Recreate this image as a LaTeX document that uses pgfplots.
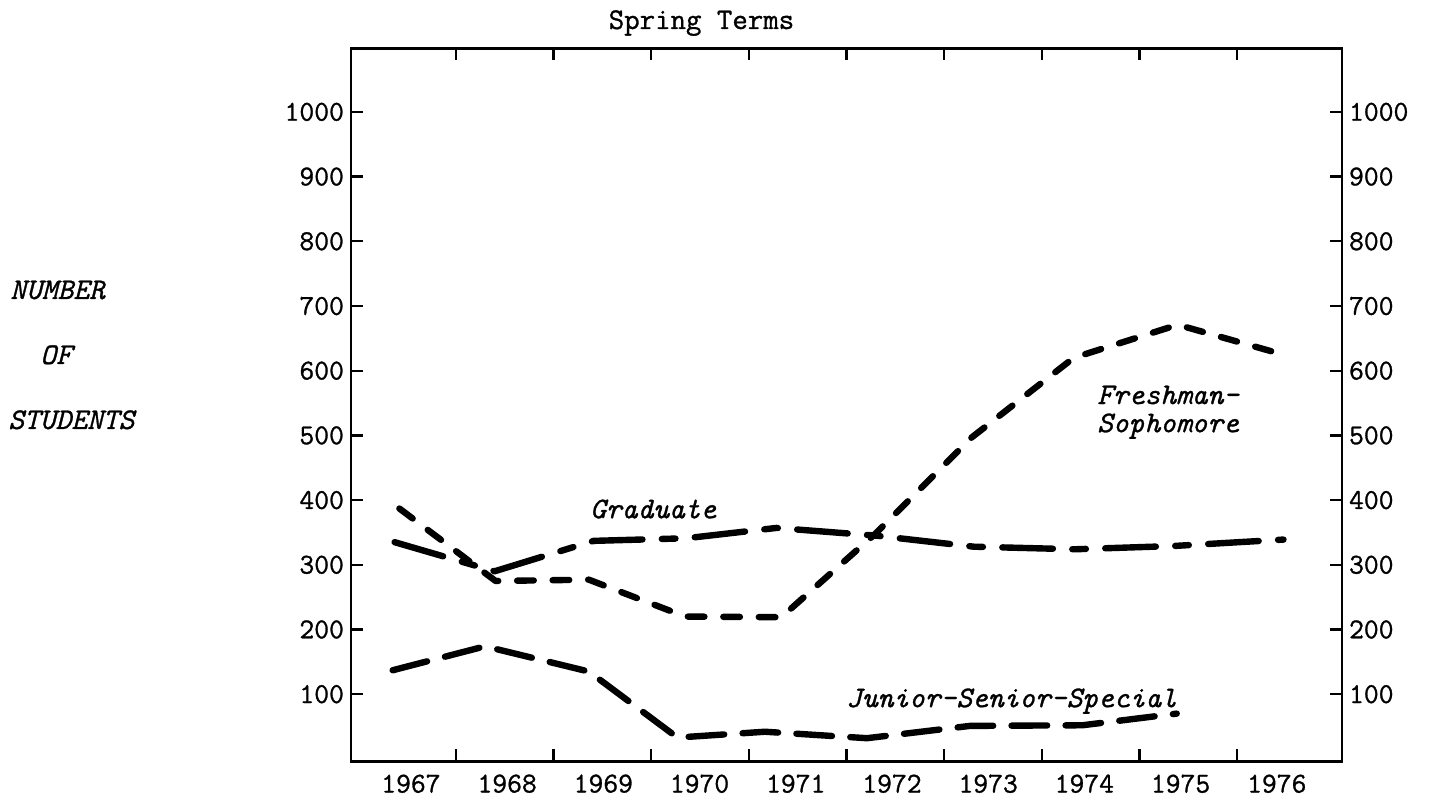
\documentclass[border=0pt]{standalone}
\usepackage{fontspec}
\usepackage{pgfplots}
\pgfplotsset{compat=1.18}
\newfontfamily\tw[FakeBold=1]{Latin Modern Mono}
\newcommand{\tf}{\fontsize{14.4}{17}\selectfont\tw}
\newcommand{\ti}{\fontsize{15}{17}\selectfont\tw\itshape}
\pgfplotsset{
  base/.style={
    scale only axis, width=495.5pt, height=356.5pt,
    xmin=1966.377, xmax=1976.678, ymin=-4, ymax=1098,
    axis line style={line width=1.4pt, black},
    tick style={line width=1.1pt, black},
    major tick length=6pt,
    tick align=inside,
    tick label style={font=\tf},
    /pgf/number format/assume math mode=true,
    /pgf/number format/1000 sep={},
    clip=false,
    ytick={100,200,300,400,500,600,700,800,900,1000},
  }
}
\begin{document}
\begin{tikzpicture}
\begin{axis}[base,
  xtick={1967.467,1968.482,1969.497,1970.512,1971.527,1972.543,1973.558,1974.573,1975.588},
  xticklabels={},
  xtick pos=both,
  extra x ticks={1967,1968,1969,1970,1971,1972,1973,1974,1975,1976},
  extra x tick labels={1967,1968,1969,1970,1971,1972,1973,1974,1975,1976},
  extra x tick style={major tick length=0pt, xticklabel style={yshift=-3pt}},
  ytick pos=both,
  yticklabel pos=left,
]
% Graduate
\addplot[black, line width=3.2pt, line cap=round, line join=round,
  dash pattern=on 25.3pt off 9.7pt on 6.8pt off 9.7pt] coordinates {
  (1966.83,335) (1967.87,290) (1968.90,337) (1969.86,341) (1970.80,357)
  (1971.84,345) (1972.85,328) (1973.90,324) (1974.92,329) (1976.07,339)};
% Freshman-Sophomore
\addplot[black, line width=3.2pt, line cap=round, line join=round,
  dash pattern=on 8.3pt off 9.45pt] coordinates {
  (1966.88,387) (1967.88,275) (1968.85,277) (1969.85,220) (1970.85,219)
  (1971.82,347) (1972.83,497) (1973.89,620) (1974.97,671) (1976.04,626)};
% Junior-Senior-Special
\addplot[black, line width=3.2pt, line cap=round, line join=round,
  dash pattern=on 17.8pt off 9.2pt] coordinates {
  (1966.81,137) (1967.77,174) (1968.85,135) (1969.77,33) (1970.68,42)
  (1971.74,32) (1972.81,51) (1973.98,52) (1974.96,70)};
\node[anchor=base west, inner sep=0pt, font=\ti] at (axis cs:1968.86,372) {Graduate};
\node[anchor=base west, inner sep=0pt, font=\ti] at (axis cs:1974.13,548.5) {Freshman-};
\node[anchor=base west, inner sep=0pt, font=\ti] at (axis cs:1974.13,505) {Sophomore};
\node[anchor=base west, inner sep=0pt, font=\ti] at (axis cs:1971.52,80) {Junior-Senior-Special};
\node[anchor=base, inner sep=0pt, font=\ti\upshape, yshift=9.75pt] at (axis cs:1970.02,1098) {Spring Terms};
\node[anchor=base west, inner sep=0pt, font=\ti, xshift=-170.5pt, yshift=231.25pt] at (rel axis cs:0,0) {NUMBER};
\node[anchor=base west, inner sep=0pt, font=\ti, xshift=-155.5pt, yshift=198.75pt] at (rel axis cs:0,0) {OF};
\node[anchor=base west, inner sep=0pt, font=\ti, xshift=-171.5pt, yshift=166.25pt] at (rel axis cs:0,0) {STUDENTS};
\end{axis}
\begin{axis}[base,
  hide x axis,
  ytick pos=right,
  yticklabel pos=right,
]
\end{axis}
\pgfresetboundingbox
\path[use as bounding box] ([xshift=-175.5pt,yshift=-20.25pt]current axis.south west) rectangle ([xshift=46pt,yshift=24.25pt]current axis.north east);
\end{tikzpicture}
\end{document}
